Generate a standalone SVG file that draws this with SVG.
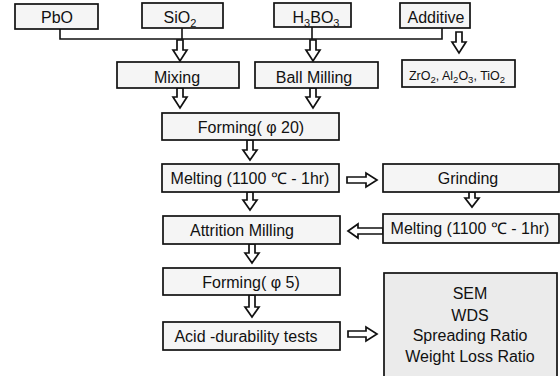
<svg xmlns="http://www.w3.org/2000/svg" width="560" height="376" viewBox="0 0 560 376">
<style>
.box{fill:#f5f5f5;stroke:#111;stroke-width:1.7}
.res{fill:#ebebeb;stroke:#111;stroke-width:1.7}
.t{font-family:"Liberation Sans",Arial,sans-serif;font-size:16px;fill:#111;text-anchor:middle}
.s{font-family:"Liberation Sans",Arial,sans-serif;font-size:12.5px;fill:#111;text-anchor:middle}
.line{fill:none;stroke:#111;stroke-width:1.6}
.arr{fill:#fff;stroke:#111;stroke-width:1.7;stroke-linejoin:miter}
</style>
<rect width="560" height="376" fill="#fff"/>
<g id="connectors">
<polyline class="line" points="60,29 60,39 442,39 442,28"/>
<line class="line" x1="182" y1="28" x2="182" y2="39"/>
<line class="line" x1="312" y1="27" x2="312" y2="39"/>
<path class="arr" d="M177,40 V50 H173 L180,61 L187,50 H183 V40 Z"/>
<path class="arr" d="M310,40 V50 H306 L313,61 L320,50 H316 V40 Z"/>
<path class="arr" d="M456,32 V42 H452 L459,53 L466,42 H462 V32 Z"/>
<path class="arr" d="M177,88 V97 H173 L180,108 L187,97 H183 V88 Z"/>
<path class="arr" d="M310,88 V97 H306 L313,108 L320,97 H316 V88 Z"/>
<path class="arr" d="M247,140 V150 H243 L250,160 L257,150 H253 V140 Z"/>
<path class="arr" d="M247,192 V200 H243 L250,210 L257,200 H253 V192 Z"/>
<path class="arr" d="M469,192 V198 H465 L472,207 L479,198 H475 V192 Z"/>
<path class="arr" d="M249,244 V253 H245 L252,263 L259,253 H255 V244 Z"/>
<path class="arr" d="M249,295 V307 H245 L252,317 L259,307 H255 V295 Z"/>
<path class="arr" d="M347,177 H366 V173 L377,180 L366,187 V183 H347 Z"/>
<path class="arr" d="M383,228 H358 V224 L348,231 L358,238 V234 H383 Z"/>
<path class="arr" d="M348,331 H366 V327 L377,334 L366,341 V337 H348 Z"/>
</g>
<g id="pbo"><rect class="box" x="15" y="4" width="83" height="25"/><text class="t" x="57" y="23">PbO</text></g>
<g id="sio2"><rect class="box" x="142" y="3" width="81" height="25"/><text class="t" x="180" y="23">SiO<tspan font-size="11" dy="4">2</tspan></text></g>
<g id="h3bo3"><rect class="box" x="274" y="3" width="77" height="24"/><text class="t" x="316" y="23">H<tspan font-size="11" dy="4">3</tspan><tspan dy="-4">BO</tspan><tspan font-size="11" dy="4">3</tspan></text></g>
<g id="additive"><rect class="box" x="400" y="3" width="70" height="25"/><text class="t" x="436" y="23">Additive</text></g>
<g id="mixing"><rect class="box" x="117" y="62" width="122" height="26"/><text class="t" x="177" y="83">Mixing</text></g>
<g id="ballmilling"><rect class="box" x="255" y="62" width="123" height="26"/><text class="t" x="314" y="83">Ball Milling</text></g>
<g id="additives"><rect class="box" x="402" y="60" width="113" height="27"/><text class="s" x="457" y="80">ZrO<tspan font-size="9.5" dy="3">2</tspan><tspan dy="-3">, Al</tspan><tspan font-size="9.5" dy="3">2</tspan><tspan dy="-3">O</tspan><tspan font-size="9.5" dy="3">3</tspan><tspan dy="-3">,  TiO</tspan><tspan font-size="9.5" dy="3">2</tspan></text></g>
<g id="forming20"><rect class="box" x="162" y="113" width="177" height="27"/><text class="t" x="251" y="133">Forming( φ 20)</text></g>
<g id="melting1"><rect class="box" x="162" y="164" width="177" height="28"/><text class="t" x="250" y="184">Melting (1100 ℃ - 1hr)</text></g>
<g id="grinding"><rect class="box" x="383" y="164" width="176" height="28"/><text class="t" x="468" y="184">Grinding</text></g>
<g id="melting2"><rect class="box" x="383" y="214" width="176" height="29"/><text class="t" x="470" y="234">Melting (1100 ℃ - 1hr)</text></g>
<g id="attrition"><rect class="box" x="163" y="216" width="177" height="28"/><text class="t" x="242" y="236">Attrition Milling</text></g>
<g id="forming5"><rect class="box" x="163" y="268" width="177" height="27"/><text class="t" x="251" y="288">Forming( φ 5)</text></g>
<g id="acid"><rect class="box" x="163" y="322" width="177" height="28"/><text class="t" x="246" y="342">Acid -durability tests</text></g>
<g id="results"><rect class="res" x="384" y="273" width="173" height="110"/>
<text class="t" x="470" y="299">SEM</text>
<text class="t" x="470" y="321">WDS</text>
<text class="t" x="470" y="341">Spreading Ratio</text>
<text class="t" x="470" y="362">Weight Loss Ratio</text></g>
</svg>
